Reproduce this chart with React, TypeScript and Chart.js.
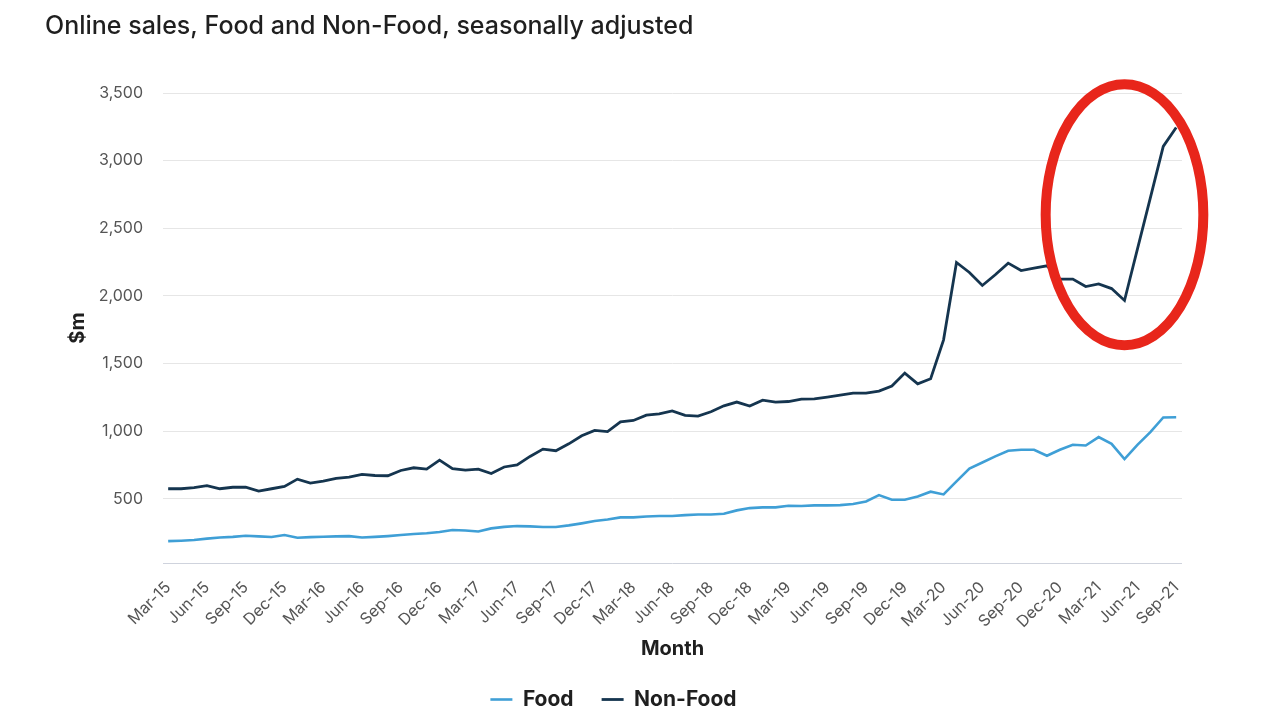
import React, { useEffect, useRef } from "react";
import { Chart, registerables } from "chart.js";

Chart.register(...registerables);

const TITLE = "Online sales, Food and Non-Food, seasonally adjusted";

const MONTHS = [
  "Mar-15", "Apr-15", "May-15", "Jun-15", "Jul-15", "Aug-15", "Sep-15", "Oct-15", "Nov-15", "Dec-15",
  "Jan-16", "Feb-16", "Mar-16", "Apr-16", "May-16", "Jun-16", "Jul-16", "Aug-16", "Sep-16", "Oct-16", "Nov-16", "Dec-16",
  "Jan-17", "Feb-17", "Mar-17", "Apr-17", "May-17", "Jun-17", "Jul-17", "Aug-17", "Sep-17", "Oct-17", "Nov-17", "Dec-17",
  "Jan-18", "Feb-18", "Mar-18", "Apr-18", "May-18", "Jun-18", "Jul-18", "Aug-18", "Sep-18", "Oct-18", "Nov-18", "Dec-18",
  "Jan-19", "Feb-19", "Mar-19", "Apr-19", "May-19", "Jun-19", "Jul-19", "Aug-19", "Sep-19", "Oct-19", "Nov-19", "Dec-19",
  "Jan-20", "Feb-20", "Mar-20", "Apr-20", "May-20", "Jun-20", "Jul-20", "Aug-20", "Sep-20", "Oct-20", "Nov-20", "Dec-20",
  "Jan-21", "Feb-21", "Mar-21", "Apr-21", "May-21", "Jun-21", "Jul-21", "Aug-21", "Sep-21",
];

const FOOD = [
  187, 190, 195, 205, 214, 218, 227, 222, 217, 232,
  212, 216, 219, 222, 224, 214, 218, 224, 232, 239, 245, 254,
  269, 265, 258, 281, 292, 298, 296, 291, 291, 303, 318, 335,
  347, 362, 362, 369, 372, 372, 379, 384, 384, 389, 414, 431,
  436, 436, 448, 446, 451, 451, 453, 461, 480, 527, 493, 493,
  517, 552, 532, 628, 724, 768, 813, 855, 862, 862, 818, 862,
  899, 894, 956, 906, 793, 899, 993, 1101, 1103,
];

const NON_FOOD = [
  574, 574, 583, 597, 574, 585, 585, 557, 574, 591,
  645, 616, 631, 650, 660, 680, 672, 670, 709, 729, 719, 786,
  722, 712, 719, 687, 735, 751, 813, 867, 855, 906, 966, 1005,
  997, 1069, 1079, 1118, 1128, 1150, 1116, 1111, 1143, 1187, 1215, 1185,
  1229, 1215, 1219, 1237, 1239, 1252, 1266, 1281, 1281, 1296, 1333, 1429,
  1350, 1387, 1675, 2247, 2173, 2077, 2156, 2242, 2187, 2205, 2222, 2124,
  2124, 2069, 2089, 2054, 1966, 2345, 2725, 3105, 3245,
];

const Y_TICKS = [500, 1000, 1500, 2000, 2500, 3000, 3500];
const Y_MIN = 25;
const Y_MAX = 3500;
const X_TICK_STEP = 3;

// red highlight ellipse (data coordinates: month index / $m)
const HIGHLIGHT = { centerIndex: 74, centerValue: 2600, radiusIndex: 6.1, radiusValue: 965 };

const FOOD_COLOR = "#3f9fd6";
const NON_FOOD_COLOR = "#15354f";
const FONT = "Inter, 'Helvetica Neue', Arial, sans-serif";

const ellipsePlugin = {
  id: "highlightEllipse",
  afterDatasetsDraw(chart: any) {
    const { ctx, scales } = chart;
    const x = scales.x;
    const y = scales.y;
    const cx = x.getPixelForValue(HIGHLIGHT.centerIndex);
    const cy = y.getPixelForValue(HIGHLIGHT.centerValue);
    const rx = Math.abs(x.getPixelForValue(HIGHLIGHT.centerIndex + HIGHLIGHT.radiusIndex) - cx);
    const ry = Math.abs(y.getPixelForValue(HIGHLIGHT.centerValue - HIGHLIGHT.radiusValue) - cy);
    ctx.save();
    ctx.beginPath();
    ctx.ellipse(cx, cy, rx, ry, 0, 0, Math.PI * 2);
    ctx.strokeStyle = "#e8261b";
    ctx.lineWidth = 10;
    ctx.stroke();
    ctx.restore();
  },
};

export default function App() {
  const ref = useRef<HTMLCanvasElement | null>(null);

  useEffect(() => {
    document.body.style.margin = "0";
    const canvas = ref.current;
    if (!canvas) return;
    const chart = new Chart(canvas, {
      type: "line",
      data: {
        datasets: [
          {
            label: "Food",
            data: FOOD.map((v, i) => ({ x: i, y: v })),
            borderColor: FOOD_COLOR,
            backgroundColor: FOOD_COLOR,
            borderWidth: 2.6,
            pointRadius: 0,
            tension: 0,
          },
          {
            label: "Non-Food",
            data: NON_FOOD.map((v, i) => ({ x: i, y: v })),
            borderColor: NON_FOOD_COLOR,
            backgroundColor: NON_FOOD_COLOR,
            borderWidth: 2.8,
            pointRadius: 0,
            tension: 0,
          },
        ],
      },
      options: {
        animation: false,
        responsive: false,
        layout: { padding: { left: 45, right: 98, top: 0, bottom: 0 } },
        plugins: {
          title: {
            display: true,
            text: TITLE,
            align: "start",
            color: "#1f1f1f",
            font: { family: FONT, size: 25, weight: 500 },
            padding: { top: 11, bottom: 52 },
          },
          legend: {
            position: "bottom",
            labels: {
              usePointStyle: true,
              pointStyle: "line",
              pointStyleWidth: 22,
              color: "#1f1f1f",
              font: { family: FONT, size: 21, weight: "bold" },
              padding: 28,
            },
          },
          tooltip: { enabled: false },
        },
        scales: {
          x: {
            type: "linear",
            min: -0.4,
            max: MONTHS.length - 1 + 0.45,
            afterBuildTicks: (axis: any) => {
              axis.ticks = MONTHS.map((_, i) => i)
                .filter((i) => i % X_TICK_STEP === 0)
                .map((i) => ({ value: i }));
            },
            afterFit: (axis: any) => {
              axis.height = 98;
            },
            ticks: {
              autoSkip: false,
              maxRotation: 45,
              minRotation: 45,
              color: "#555",
              font: { family: FONT, size: 16 },
              padding: 7,
              callback: (value: any) => MONTHS[Math.round(Number(value))] ?? "",
            },
            grid: { display: false },
            border: { display: false },
            title: {
              display: true,
              text: "Month",
              color: "#1f1f1f",
              font: { family: FONT, size: 20, weight: "bold" },
              padding: { top: 0, bottom: 0 },
            },
          },
          y: {
            min: Y_MIN,
            max: Y_MAX,
            afterBuildTicks: (axis: any) => {
              axis.ticks = [Y_MIN, ...Y_TICKS].map((v) => ({ value: v }));
            },
            afterFit: (axis: any) => {
              axis.width = 118;
            },
            ticks: {
              color: "#555",
              font: { family: FONT, size: 16 },
              padding: 20,
              callback: (value: any) =>
                Y_TICKS.includes(Number(value)) ? Number(value).toLocaleString("en-US") : "",
            },
            grid: {
              drawTicks: false,
              lineWidth: 1,
              color: (c: any) => (c.tick && c.tick.value === Y_MIN ? "#cfd3dd" : "#e6e6e6"),
            },
            border: { display: false },
            title: {
              display: true,
              text: "$m",
              color: "#1f1f1f",
              font: { family: FONT, size: 20, weight: "bold" },
              padding: { top: 21, bottom: 0 },
            },
          },
        },
      },
      plugins: [ellipsePlugin],
    } as any);
    return () => chart.destroy();
  }, []);

  return <canvas ref={ref} width={1280} height={720} style={{ display: "block" }} />;
}
